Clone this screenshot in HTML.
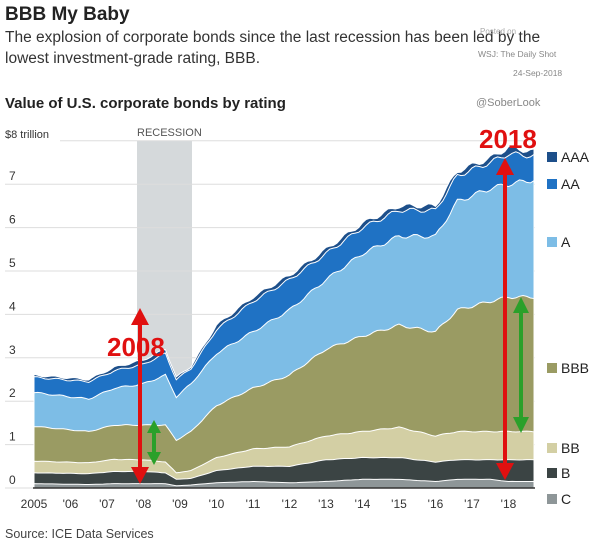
<!DOCTYPE html>
<html><head><meta charset="utf-8"><style>
body{margin:0;background:#fff;width:600px;height:545px;overflow:hidden;font-family:"Liberation Sans",sans-serif}
</style></head><body>
<svg id="s" width="600" height="545" xmlns="http://www.w3.org/2000/svg" font-family="Liberation Sans, sans-serif">
<text x="5" y="20" font-size="19" font-weight="bold" fill="#222">BBB My Baby</text>
<text x="5" y="42" font-size="15.5" fill="#333">The explosion of corporate bonds since the last recession has been led by the</text>
<text x="5" y="63" font-size="15.5" fill="#333">lowest investment-grade rating, BBB.</text>
<text x="480" y="34" font-size="8" fill="#aaa">Posted on</text>
<text x="478" y="57" font-size="8.5" fill="#888">WSJ: The Daily Shot</text>
<text x="513" y="76" font-size="8.5" fill="#888">24-Sep-2018</text>
<text x="476" y="106" font-size="11" fill="#888">@SoberLook</text>
<text x="5" y="108" font-size="15" font-weight="bold" fill="#222">Value of U.S. corporate bonds by rating</text>
<text x="5" y="138" font-size="11" fill="#333">$8 trillion</text>
<text x="137" y="136" font-size="11" fill="#555">RECESSION</text>
<rect x="137" y="141" width="55" height="347" fill="#d5d9db"/>
<g id="grid" stroke="#ddd" stroke-width="1"></g>
<g id="areas"></g>
<line x1="33" y1="488" x2="535" y2="488" stroke="#333" stroke-width="1.5"/>
<g font-size="12" fill="#333" id="yl"></g>
<g font-size="12" fill="#333" id="xl"></g>
<g font-size="14" fill="#222">
<rect x="547" y="152" width="10" height="10" fill="#1d4f8a"/><text x="561" y="162">AAA</text>
<rect x="547" y="179" width="10" height="10" fill="#1f72c4"/><text x="561" y="189">AA</text>
<rect x="547" y="237" width="10" height="10" fill="#7dbde6"/><text x="561" y="247">A</text>
<rect x="547" y="363" width="10" height="10" fill="#9a9b63"/><text x="561" y="373">BBB</text>
<rect x="547" y="443" width="10" height="10" fill="#d3cfa4"/><text x="561" y="453">BB</text>
<rect x="547" y="468" width="10" height="10" fill="#3b4444"/><text x="561" y="478">B</text>
<rect x="547" y="494" width="10" height="10" fill="#8e9698"/><text x="561" y="504">C</text>
</g>
<text x="5" y="538" font-size="12.5" fill="#444">Source: ICE Data Services</text>
<g fill="#e01010" stroke="#e01010">
<line x1="140" y1="322" x2="140" y2="470" stroke-width="4"/>
<polygon points="131,325 149,325 140,308" stroke="none"/>
<polygon points="131,467 149,467 140,484" stroke="none"/>
<line x1="505" y1="172" x2="505" y2="466" stroke-width="4"/>
<polygon points="496,175 514,175 505,158" stroke="none"/>
<polygon points="496,463 514,463 505,480" stroke="none"/>
</g>
<g fill="#2aa02a" stroke="#2aa02a">
<line x1="154" y1="430" x2="154" y2="455" stroke-width="4"/>
<polygon points="147,433 161,433 154,420" stroke="none"/>
<polygon points="147,452 161,452 154,465" stroke="none"/>
<line x1="521" y1="310" x2="521" y2="420" stroke-width="4"/>
<polygon points="513,313 529,313 521,297" stroke="none"/>
<polygon points="513,417 529,417 521,433" stroke="none"/>
</g>
<text x="107" y="356" font-size="26" font-weight="bold" fill="#e01010">2008</text>
<text x="479" y="148" font-size="26" font-weight="bold" fill="#e01010">2018</text>
</svg>
<script>
var NS="http://www.w3.org/2000/svg";
function Y(v){return 488-v*43.4}
function X(t){return 34+(t-2005)*36.5}
var g=document.getElementById('grid'),yl=document.getElementById('yl'),xl=document.getElementById('xl');
for(var i=0;i<=8;i++){var l=document.createElementNS(NS,'line');l.setAttribute('x1',i==8?60:5);l.setAttribute('x2',535);l.setAttribute('y1',Y(i));l.setAttribute('y2',Y(i));g.appendChild(l);
if(i<8){var t=document.createElementNS(NS,'text');t.setAttribute('x',9);t.setAttribute('y',Y(i)-4);t.textContent=i;yl.appendChild(t);}}
var yrs=["2005","'06","'07","'08","'09","'10","'11","'12","'13","'14","'15","'16","'17","'18"];
yrs.forEach(function(s,i){var t=document.createElementNS(NS,'text');t.setAttribute('x',X(2005+i));t.setAttribute('y',508);t.setAttribute('text-anchor','middle');t.textContent=s;xl.appendChild(t);});
var D=[
[2005,.1,.35,.62,1.42,2.2,2.55,2.6],
[2006.5,.08,.33,.58,1.3,2.05,2.45,2.5],
[2007.2,.1,.38,.66,1.45,2.3,2.7,2.78],
[2008.0,.1,.38,.65,1.45,2.4,2.85,2.95],
[2008.6,.1,.35,.6,1.45,2.6,3.1,3.2],
[2008.9,.05,.2,.35,1.1,2.1,2.5,2.55],
[2009.3,.07,.22,.4,1.3,2.4,2.75,2.8],
[2010,.12,.4,.7,1.9,3.1,3.65,3.75],
[2011,.15,.5,.9,2.3,3.6,4.3,4.4],
[2012,.12,.5,.95,2.6,4.1,4.8,4.9],
[2013,.15,.65,1.2,3.2,4.8,5.4,5.5],
[2014,.2,.7,1.3,3.5,5.4,6.0,6.1],
[2015,.2,.7,1.4,3.75,5.8,6.4,6.5],
[2016,.15,.6,1.2,3.6,5.8,6.4,6.5],
[2016.6,.2,.65,1.3,4.1,6.6,7.2,7.3],
[2017.5,.2,.65,1.3,4.3,6.9,7.5,7.6],
[2018,.15,.65,1.3,4.4,7.0,7.7,7.85],
[2018.7,.15,.65,1.3,4.4,7.1,7.65,7.75]];
function val(t,k){for(var i=0;i<D.length-1;i++){if(t<=D[i+1][0]){var a=D[i],b=D[i+1],f=(t-a[0])/(b[0]-a[0]);return a[k]+(b[k]-a[k])*f;}}return D[D.length-1][k];}
var cols=["#8e9698","#3b4444","#d3cfa4","#9a9b63","#7dbde6","#1f72c4","#1d4f8a"];
var ar=document.getElementById('areas');
for(var k=7;k>=1;k--){var p="M"+X(2005)+","+Y(0);
for(var t=2005;t<=2018.7001;t+=0.1){var v=val(t,k);var w=v*0.008*Math.sin(t*11+k);p+=" L"+X(t).toFixed(1)+","+Y(v+w).toFixed(1);}
p+=" L"+X(2018.7)+","+Y(0)+"Z";
var e=document.createElementNS(NS,'path');e.setAttribute('d',p);e.setAttribute('fill',cols[k-1]);e.setAttribute('stroke','#fff');e.setAttribute('stroke-width','1');ar.appendChild(e);}
</script>
</body></html>
